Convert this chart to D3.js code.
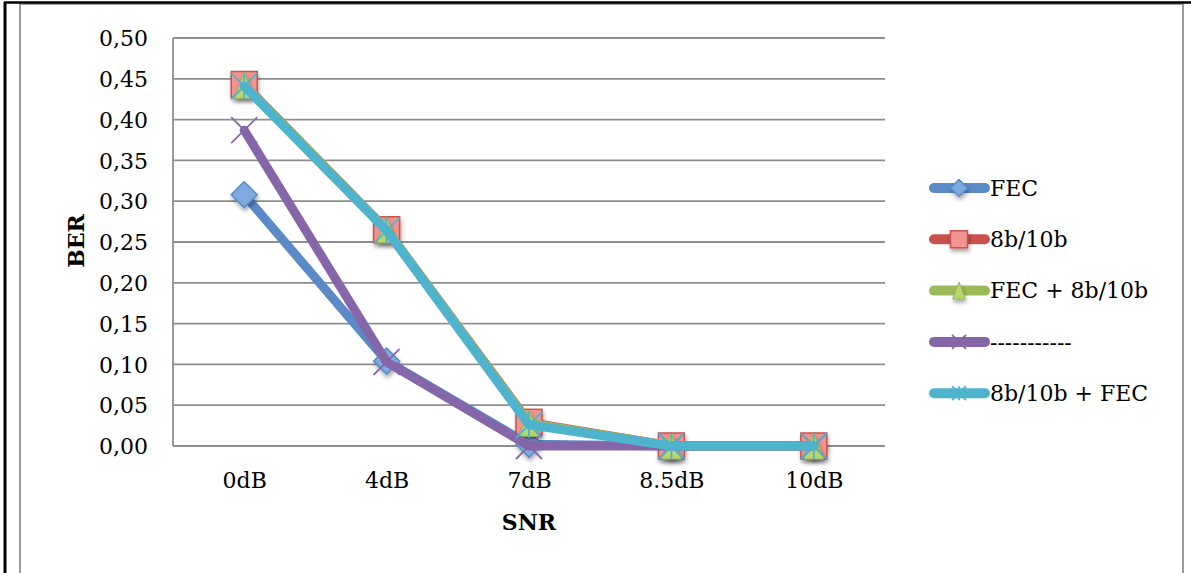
<!DOCTYPE html>
<html><head><meta charset="utf-8">
<script src="https://cdn.jsdelivr.net/npm/d3@7"></script>
<style>body{margin:0;background:#fff}svg{display:block}text{font-family:"DejaVu Serif",serif}</style>
</head><body>
<script>
const categories = ["0dB","4dB","7dB","8.5dB","10dB"];
const yTicks = [0,0.05,0.10,0.15,0.20,0.25,0.30,0.35,0.40,0.45,0.50];
const seriesNames = ["FEC","8b/10b","FEC + 8b/10b","-----------","8b/10b + FEC"];
const fec = [0.308,0.104,0.002,0,0];
const b8b10 = [0.443,0.265,0.029,0,0];
const fecB8b10 = [0.442,0.265,0.028,0,0];
const dashes = [0.387,0.103,0.0,0,0];
const b8b10Fec = [0.441,0.264,0.026,0,0];
const seriesValues = [fec,b8b10,fecB8b10,dashes,b8b10Fec];
const colors = ["#5A8BC6","#C9524F","#9BBB59","#8566A8","#4EB3CC"];
const fills = ["#7FAAE0","#F29490","#B8D56E","#8566A8","#4EB3CC"];
const markers = ["diamond","square","triangle","x","star"];

const W=1191,H=573, FS=22;
const svg=d3.select("body").append("svg").attr("width",W).attr("height",H);
const defs=svg.append("defs");
const f=defs.append("filter").attr("id","sh").attr("x","-50%").attr("y","-50%").attr("width","200%").attr("height","200%");
f.append("feDropShadow").attr("dx",1).attr("dy",3).attr("stdDeviation",2).attr("flood-color","#000").attr("flood-opacity",0.35);

// frames
svg.append("rect").attr("x",20).attr("y",4).attr("width",1163).attr("height",H).attr("fill","none").attr("stroke","#9a9a9a").attr("stroke-width",2);
svg.append("line").attr("x1",5).attr("x2",5).attr("y1",2).attr("y2",H).attr("stroke","#000").attr("stroke-width",3);
svg.append("line").attr("x1",4).attr("x2",W).attr("y1",2.5).attr("y2",2.5).attr("stroke","#000").attr("stroke-width",2.5);

const x=d3.scalePoint().domain(categories).range([173,885]).padding(0.5);
const y=d3.scaleLinear().domain([0,0.5]).range([446,38]);

// gridlines
const gy=svg.append("g");
gy.selectAll("line").data(yTicks).join("line")
 .attr("x1",173).attr("x2",885).attr("y1",d=>y(d)).attr("y2",d=>y(d))
 .attr("stroke","#8e8e8e").attr("stroke-width",1.8);
svg.append("line").attr("x1",173).attr("x2",173).attr("y1",38).attr("y2",446).attr("stroke","#8e8e8e").attr("stroke-width",1.8);

// axes labels via d3 axes
const yAxis=svg.append("g").attr("transform","translate(148,0)")
 .call(d3.axisLeft(y).tickValues(yTicks).tickSize(0).tickPadding(0).tickFormat(d=>d3.format(".2f")(d).replace(".",",")));
yAxis.select(".domain").remove();
yAxis.selectAll("text").attr("font-size",FS).attr("fill","#000").attr("font-family","DejaVu Serif").attr("dy","0.35em");
const xAxis=svg.append("g").attr("transform","translate(0,472)")
 .call(d3.axisBottom(x).tickSize(0).tickPadding(0));
xAxis.select(".domain").remove();
xAxis.selectAll("text").attr("font-size",FS).attr("fill","#000").attr("font-family","DejaVu Serif").attr("dy","0.71em");

svg.append("text").attr("transform","translate(84,241) rotate(-90)").attr("text-anchor","middle")
 .attr("font-size",FS).attr("font-weight","bold").text("BER");
svg.append("text").attr("x",529).attr("y",530).attr("text-anchor","middle")
 .attr("font-size",FS).attr("font-weight","bold").text("SNR");

function drawMarker(g,type,i,cx,cy,s){
  const c=colors[i], fl=fills[i];
  if(type==="diamond"){
    g.append("path").attr("d",`M${cx},${cy-s}L${cx+s},${cy}L${cx},${cy+s}L${cx-s},${cy}Z`)
     .attr("fill",fl).attr("stroke",c).attr("stroke-width",1.5).attr("filter","url(#sh)");
  } else if(type==="square"){
    g.append("rect").attr("x",cx-s).attr("y",cy-s).attr("width",2*s).attr("height",2*s)
     .attr("fill",fl).attr("stroke",c).attr("stroke-width",1.5).attr("filter","url(#sh)");
  } else if(type==="triangle"){
    g.append("path").attr("d",`M${cx},${cy-s}L${cx+s*0.75},${cy+s}L${cx-s*0.75},${cy+s}Z`)
     .attr("fill",fl).attr("stroke",c).attr("stroke-width",1).attr("filter","url(#sh)");
  } else if(type==="x"){
    g.append("path").attr("d",`M${cx-s},${cy-s}L${cx+s},${cy+s}M${cx+s},${cy-s}L${cx-s},${cy+s}`)
     .attr("stroke",c).attr("stroke-width",1.8).attr("fill","none");
  } else if(type==="star"){
    g.append("path").attr("d",`M${cx-s},${cy-s}L${cx+s},${cy+s}M${cx+s},${cy-s}L${cx-s},${cy+s}M${cx},${cy-s}L${cx},${cy+s}`)
     .attr("stroke",c).attr("stroke-width",1.8).attr("fill","none");
  }
}

const line=d3.line().x((d,i)=>x(categories[i])).y(d=>y(d));
seriesValues.forEach((vals,i)=>{
  const g=svg.append("g");
  g.append("path").attr("d",line(vals)).attr("fill","none").attr("stroke",colors[i])
   .attr("stroke-width",9).attr("stroke-linejoin","round").attr("stroke-linecap","round");
  vals.forEach((v,j)=>drawMarker(g,markers[i],i,x(categories[j]),y(v),13));
});

// legend
const leg=svg.append("g");
seriesNames.forEach((n,i)=>{
  const cy=188+i*51.3;
  leg.append("line").attr("x1",934).attr("x2",985).attr("y1",cy).attr("y2",cy)
   .attr("stroke",colors[i]).attr("stroke-width",10).attr("stroke-linecap","round");
  drawMarker(leg,markers[i],i,959,cy,markers[i]==="diamond"?8.5:(markers[i]==="x"||markers[i]==="star")?7:8.5);
  leg.append("text").attr("x",990).attr("y",cy).attr("dy","0.35em").attr("font-size",FS).text(n);
});
</script>
</body></html>
